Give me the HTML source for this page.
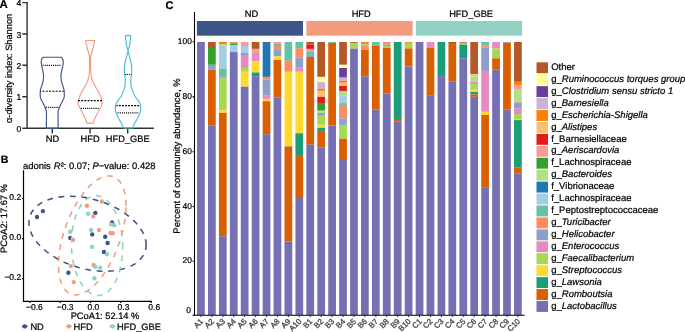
<!DOCTYPE html>
<html><head><meta charset="utf-8">
<style>
html,body{margin:0;padding:0;background:#fff;}
body{width:685px;height:332px;overflow:hidden;}
svg{display:block;will-change:transform;font-family:"Liberation Sans",sans-serif;}
text{font-family:"Liberation Sans",sans-serif;fill:#000;stroke:#000;stroke-width:0.22px;text-rendering:geometricPrecision;}
.tk{fill:#595959;stroke:none;}
</style></head><body>
<svg width="685" height="332" viewBox="0 0 685 332">
<rect width="685" height="332" fill="#fff"/>
<!-- panel labels -->
<text x="-0.4" y="7.75" font-size="11.4" font-weight="bold">A</text>
<text x="0.8" y="162.8" font-size="10.6" font-weight="bold">B</text>
<text x="165.5" y="8.75" font-size="11.0" font-weight="bold">C</text>

<!-- ===== Panel A ===== -->
<g id="panelA">
<text transform="translate(12.0,68.4) rotate(-90)" text-anchor="middle" font-size="9.25">α-diversity index: Shannon</text>
<g stroke="#333" stroke-width="1.4" fill="none">
<path d="M27.1,2 V128.3 H153.9"/>
<path d="M22.3,2.65 H27.1 M22.3,34.0 H27.1 M22.3,65.3 H27.1 M22.3,96.7 H27.1 M22.3,128.3 H27.1"/>
<path d="M52.3,128.3 V133.5 M90.1,128.3 V133.5 M127.7,128.3 V133.5"/>
</g>
<g font-size="8.6" text-anchor="end">
<text x="21.3" y="6.3">4</text>
<text x="21.3" y="37.7">3</text>
<text x="21.3" y="69.0">2</text>
<text x="21.3" y="100.4">1</text>
<text x="21.3" y="132.0">0</text>
</g>
<g font-size="9.3" text-anchor="middle">
<text x="52.4" y="142.1">ND</text>
<text x="90.1" y="142.1">HFD</text>
<text x="127.8" y="142.1">HFD_GBE</text>
</g>
<path d="M43.30,57.20 L42.74,57.70 L42.33,58.20 L42.00,58.70 L41.77,59.20 L41.58,59.70 L41.45,60.20 L41.37,60.70 L41.30,61.20 L41.26,61.70 L41.25,62.20 L41.27,62.70 L41.31,63.20 L41.36,63.70 L41.42,64.20 L41.47,64.70 L41.55,65.20 L41.65,65.70 L41.77,66.20 L41.89,66.70 L42.02,67.20 L42.14,67.70 L42.26,68.20 L42.36,68.70 L42.47,69.20 L42.57,69.70 L42.68,70.20 L42.78,70.70 L42.88,71.20 L42.97,71.70 L43.05,72.20 L43.13,72.70 L43.22,73.20 L43.30,73.70 L43.38,74.20 L43.45,74.70 L43.51,75.20 L43.54,75.70 L43.55,76.20 L43.54,76.70 L43.52,77.20 L43.48,77.70 L43.44,78.20 L43.39,78.70 L43.34,79.20 L43.28,79.70 L43.22,80.20 L43.14,80.70 L43.04,81.20 L42.93,81.70 L42.80,82.20 L42.67,82.70 L42.53,83.20 L42.39,83.70 L42.24,84.20 L42.07,84.70 L41.90,85.20 L41.73,85.70 L41.58,86.20 L41.43,86.70 L41.28,87.20 L41.12,87.70 L40.97,88.20 L40.82,88.70 L40.67,89.20 L40.55,89.70 L40.44,90.20 L40.36,90.70 L40.31,91.20 L40.29,91.70 L40.27,92.20 L40.25,92.70 L40.24,93.20 L40.22,93.70 L40.21,94.20 L40.21,94.70 L40.20,95.20 L40.20,95.70 L40.23,96.20 L40.30,96.70 L40.40,97.20 L40.53,97.70 L40.67,98.20 L40.81,98.70 L41.00,99.20 L41.24,99.70 L41.49,100.20 L41.75,100.70 L42.01,101.20 L42.28,101.70 L42.56,102.20 L42.85,102.70 L43.13,103.20 L43.40,103.70 L43.65,104.20 L43.90,104.70 L44.15,105.20 L44.38,105.70 L44.61,106.20 L44.82,106.70 L45.01,107.20 L45.19,107.70 L45.38,108.20 L45.57,108.70 L45.75,109.20 L45.92,109.70 L46.08,110.20 L46.22,110.70 L46.33,111.20 L46.41,111.70 L46.45,112.20 L46.45,112.70 L46.45,113.20 L46.45,113.70 L46.45,114.20 L46.45,114.70 L46.45,115.20 L46.45,115.70 L46.45,116.20 L46.45,116.70 L46.45,117.20 L46.45,117.70 L46.45,118.20 L46.45,118.70 L46.45,119.20 L46.45,119.70 L46.44,120.20 L46.43,120.70 L46.42,121.20 L46.40,121.70 L46.39,122.20 L46.37,122.70 L46.36,123.20 L46.35,123.70 L46.35,124.20 L46.35,124.70 L46.36,125.20 L46.37,125.70 L46.38,126.20 L46.39,126.70 L46.41,127.20 L46.42,127.70 L46.45,128.20 L46.45,128.30 L58.05,128.30 L58.05,128.20 L58.08,127.70 L58.09,127.20 L58.11,126.70 L58.12,126.20 L58.13,125.70 L58.14,125.20 L58.15,124.70 L58.15,124.20 L58.15,123.70 L58.14,123.20 L58.13,122.70 L58.11,122.20 L58.10,121.70 L58.08,121.20 L58.07,120.70 L58.06,120.20 L58.05,119.70 L58.05,119.20 L58.05,118.70 L58.05,118.20 L58.05,117.70 L58.05,117.20 L58.05,116.70 L58.05,116.20 L58.05,115.70 L58.05,115.20 L58.05,114.70 L58.05,114.20 L58.05,113.70 L58.05,113.20 L58.05,112.70 L58.05,112.20 L58.09,111.70 L58.17,111.20 L58.28,110.70 L58.42,110.20 L58.58,109.70 L58.75,109.20 L58.93,108.70 L59.12,108.20 L59.31,107.70 L59.49,107.20 L59.68,106.70 L59.89,106.20 L60.12,105.70 L60.35,105.20 L60.60,104.70 L60.85,104.20 L61.10,103.70 L61.37,103.20 L61.65,102.70 L61.94,102.20 L62.22,101.70 L62.49,101.20 L62.75,100.70 L63.01,100.20 L63.26,99.70 L63.50,99.20 L63.69,98.70 L63.83,98.20 L63.97,97.70 L64.10,97.20 L64.20,96.70 L64.27,96.20 L64.30,95.70 L64.30,95.20 L64.29,94.70 L64.29,94.20 L64.28,93.70 L64.26,93.20 L64.25,92.70 L64.23,92.20 L64.21,91.70 L64.19,91.20 L64.14,90.70 L64.06,90.20 L63.95,89.70 L63.83,89.20 L63.68,88.70 L63.53,88.20 L63.38,87.70 L63.22,87.20 L63.07,86.70 L62.92,86.20 L62.77,85.70 L62.60,85.20 L62.43,84.70 L62.26,84.20 L62.11,83.70 L61.97,83.20 L61.83,82.70 L61.70,82.20 L61.57,81.70 L61.46,81.20 L61.36,80.70 L61.28,80.20 L61.22,79.70 L61.16,79.20 L61.11,78.70 L61.06,78.20 L61.02,77.70 L60.98,77.20 L60.96,76.70 L60.95,76.20 L60.96,75.70 L60.99,75.20 L61.05,74.70 L61.12,74.20 L61.20,73.70 L61.28,73.20 L61.37,72.70 L61.45,72.20 L61.53,71.70 L61.62,71.20 L61.72,70.70 L61.82,70.20 L61.93,69.70 L62.03,69.20 L62.14,68.70 L62.24,68.20 L62.36,67.70 L62.48,67.20 L62.61,66.70 L62.73,66.20 L62.85,65.70 L62.95,65.20 L63.03,64.70 L63.08,64.20 L63.14,63.70 L63.19,63.20 L63.23,62.70 L63.25,62.20 L63.24,61.70 L63.20,61.20 L63.13,60.70 L63.05,60.20 L62.92,59.70 L62.73,59.20 L62.50,58.70 L62.17,58.20 L61.76,57.70 L61.20,57.20 Z" fill="none" stroke="#3C5488" stroke-width="1.15" stroke-linejoin="round"/>
<path d="M85.60,40.50 L85.70,41.00 L85.79,41.50 L85.89,42.00 L85.99,42.50 L86.09,43.00 L86.20,43.50 L86.30,44.00 L86.41,44.50 L86.51,45.00 L86.62,45.50 L86.73,46.00 L86.84,46.50 L86.96,47.00 L87.08,47.50 L87.20,48.00 L87.33,48.50 L87.46,49.00 L87.59,49.50 L87.73,50.00 L87.87,50.50 L88.01,51.00 L88.16,51.50 L88.30,52.00 L88.45,52.50 L88.60,53.00 L88.76,53.50 L88.92,54.00 L89.06,54.50 L89.20,55.00 L89.34,55.50 L89.49,56.00 L89.60,56.50 L89.65,57.00 L89.65,57.50 L89.65,58.00 L89.64,58.50 L89.64,59.00 L89.63,59.50 L89.62,60.00 L89.62,60.50 L89.61,61.00 L89.61,61.50 L89.60,62.00 L89.60,62.50 L89.59,63.00 L89.59,63.50 L89.59,64.00 L89.58,64.50 L89.58,65.00 L89.58,65.50 L89.57,66.00 L89.57,66.50 L89.56,67.00 L89.56,67.50 L89.55,68.00 L89.54,68.50 L89.52,69.00 L89.50,69.50 L89.47,70.00 L89.45,70.50 L89.41,71.00 L89.38,71.50 L89.35,72.00 L89.32,72.50 L89.28,73.00 L89.25,73.50 L89.20,74.00 L89.16,74.50 L89.10,75.00 L89.03,75.50 L88.95,76.00 L88.85,76.50 L88.74,77.00 L88.62,77.50 L88.49,78.00 L88.35,78.50 L88.20,79.00 L88.05,79.50 L87.90,80.00 L87.73,80.50 L87.55,81.00 L87.35,81.50 L87.14,82.00 L86.92,82.50 L86.68,83.00 L86.44,83.50 L86.20,84.00 L85.95,84.50 L85.70,85.00 L85.44,85.50 L85.17,86.00 L84.89,86.50 L84.60,87.00 L84.30,87.50 L84.00,88.00 L83.70,88.50 L83.41,89.00 L83.12,89.50 L82.85,90.00 L82.57,90.50 L82.30,91.00 L82.02,91.50 L81.75,92.00 L81.48,92.50 L81.21,93.00 L80.96,93.50 L80.71,94.00 L80.48,94.50 L80.26,95.00 L80.04,95.50 L79.82,96.00 L79.60,96.50 L79.39,97.00 L79.19,97.50 L79.00,98.00 L78.82,98.50 L78.67,99.00 L78.54,99.50 L78.43,100.00 L78.33,100.50 L78.24,101.00 L78.16,101.50 L78.11,102.00 L78.10,102.50 L78.14,103.00 L78.22,103.50 L78.34,104.00 L78.47,104.50 L78.60,105.00 L78.75,105.50 L78.95,106.00 L79.17,106.50 L79.41,107.00 L79.65,107.50 L79.90,108.00 L80.15,108.50 L80.40,109.00 L80.67,109.50 L80.94,110.00 L81.22,110.50 L81.50,111.00 L81.78,111.50 L82.06,112.00 L82.33,112.50 L82.60,113.00 L82.86,113.50 L83.11,114.00 L83.37,114.50 L83.62,115.00 L83.87,115.50 L84.11,116.00 L84.36,116.50 L84.60,117.00 L84.83,117.50 L85.06,118.00 L85.28,118.50 L85.51,119.00 L85.73,119.50 L85.94,120.00 L86.14,120.50 L86.30,121.00 L86.44,121.50 L86.57,122.00 L86.69,122.50 L86.78,123.00 L86.80,123.10 L93.40,123.10 L93.42,123.00 L93.51,122.50 L93.63,122.00 L93.76,121.50 L93.90,121.00 L94.06,120.50 L94.26,120.00 L94.47,119.50 L94.69,119.00 L94.92,118.50 L95.14,118.00 L95.37,117.50 L95.60,117.00 L95.84,116.50 L96.09,116.00 L96.33,115.50 L96.58,115.00 L96.83,114.50 L97.09,114.00 L97.34,113.50 L97.60,113.00 L97.87,112.50 L98.14,112.00 L98.42,111.50 L98.70,111.00 L98.98,110.50 L99.26,110.00 L99.53,109.50 L99.80,109.00 L100.05,108.50 L100.30,108.00 L100.55,107.50 L100.79,107.00 L101.03,106.50 L101.25,106.00 L101.45,105.50 L101.60,105.00 L101.73,104.50 L101.86,104.00 L101.98,103.50 L102.06,103.00 L102.10,102.50 L102.09,102.00 L102.04,101.50 L101.96,101.00 L101.87,100.50 L101.77,100.00 L101.66,99.50 L101.53,99.00 L101.38,98.50 L101.20,98.00 L101.01,97.50 L100.81,97.00 L100.60,96.50 L100.38,96.00 L100.16,95.50 L99.94,95.00 L99.72,94.50 L99.49,94.00 L99.24,93.50 L98.99,93.00 L98.72,92.50 L98.45,92.00 L98.18,91.50 L97.90,91.00 L97.63,90.50 L97.35,90.00 L97.08,89.50 L96.79,89.00 L96.50,88.50 L96.20,88.00 L95.90,87.50 L95.60,87.00 L95.31,86.50 L95.03,86.00 L94.76,85.50 L94.50,85.00 L94.25,84.50 L94.00,84.00 L93.76,83.50 L93.52,83.00 L93.28,82.50 L93.06,82.00 L92.85,81.50 L92.65,81.00 L92.47,80.50 L92.30,80.00 L92.15,79.50 L92.00,79.00 L91.85,78.50 L91.71,78.00 L91.58,77.50 L91.46,77.00 L91.35,76.50 L91.25,76.00 L91.17,75.50 L91.10,75.00 L91.04,74.50 L91.00,74.00 L90.95,73.50 L90.92,73.00 L90.88,72.50 L90.85,72.00 L90.82,71.50 L90.79,71.00 L90.75,70.50 L90.73,70.00 L90.70,69.50 L90.68,69.00 L90.66,68.50 L90.65,68.00 L90.64,67.50 L90.64,67.00 L90.63,66.50 L90.63,66.00 L90.62,65.50 L90.62,65.00 L90.62,64.50 L90.61,64.00 L90.61,63.50 L90.61,63.00 L90.60,62.50 L90.60,62.00 L90.59,61.50 L90.59,61.00 L90.58,60.50 L90.58,60.00 L90.57,59.50 L90.56,59.00 L90.56,58.50 L90.55,58.00 L90.55,57.50 L90.55,57.00 L90.60,56.50 L90.71,56.00 L90.86,55.50 L91.00,55.00 L91.14,54.50 L91.28,54.00 L91.44,53.50 L91.60,53.00 L91.75,52.50 L91.90,52.00 L92.04,51.50 L92.19,51.00 L92.33,50.50 L92.47,50.00 L92.61,49.50 L92.74,49.00 L92.87,48.50 L93.00,48.00 L93.12,47.50 L93.24,47.00 L93.36,46.50 L93.47,46.00 L93.58,45.50 L93.69,45.00 L93.79,44.50 L93.90,44.00 L94.00,43.50 L94.11,43.00 L94.21,42.50 L94.31,42.00 L94.41,41.50 L94.50,41.00 L94.60,40.50 Z" fill="none" stroke="#F39B7F" stroke-width="1.15" stroke-linejoin="round"/>
<path d="M125.30,35.60 L125.36,36.10 L125.43,36.60 L125.49,37.10 L125.55,37.60 L125.61,38.10 L125.67,38.60 L125.73,39.10 L125.79,39.60 L125.85,40.10 L125.91,40.60 L125.97,41.10 L126.02,41.60 L126.07,42.10 L126.11,42.60 L126.16,43.10 L126.22,43.60 L126.28,44.10 L126.35,44.60 L126.44,45.10 L126.55,45.60 L126.68,46.10 L126.83,46.60 L126.99,47.10 L127.14,47.60 L127.28,48.10 L127.43,48.60 L127.60,49.10 L127.75,49.60 L127.87,50.10 L127.94,50.60 L127.93,51.10 L127.84,51.60 L127.70,52.10 L127.55,52.60 L127.43,53.10 L127.32,53.60 L127.21,54.10 L127.10,54.60 L126.99,55.10 L126.87,55.60 L126.75,56.10 L126.61,56.60 L126.47,57.10 L126.33,57.60 L126.20,58.10 L126.06,58.60 L125.93,59.10 L125.79,59.60 L125.66,60.10 L125.54,60.60 L125.43,61.10 L125.32,61.60 L125.22,62.10 L125.12,62.60 L125.02,63.10 L124.93,63.60 L124.85,64.10 L124.77,64.60 L124.68,65.10 L124.60,65.60 L124.53,66.10 L124.47,66.60 L124.45,67.10 L124.43,67.60 L124.42,68.10 L124.41,68.60 L124.41,69.10 L124.40,69.60 L124.40,70.10 L124.41,70.60 L124.42,71.10 L124.44,71.60 L124.47,72.10 L124.51,72.60 L124.55,73.10 L124.59,73.60 L124.63,74.10 L124.67,74.60 L124.72,75.10 L124.78,75.60 L124.86,76.10 L124.93,76.60 L125.01,77.10 L125.08,77.60 L125.13,78.10 L125.18,78.60 L125.20,79.10 L125.20,79.60 L125.20,80.10 L125.20,80.60 L125.19,81.10 L125.19,81.60 L125.19,82.10 L125.18,82.60 L125.17,83.10 L125.17,83.60 L125.16,84.10 L125.15,84.60 L125.11,85.10 L125.04,85.60 L124.94,86.10 L124.82,86.60 L124.68,87.10 L124.54,87.60 L124.39,88.10 L124.25,88.60 L124.10,89.10 L123.94,89.60 L123.77,90.10 L123.59,90.60 L123.40,91.10 L123.20,91.60 L122.99,92.10 L122.79,92.60 L122.59,93.10 L122.38,93.60 L122.17,94.10 L121.95,94.60 L121.73,95.10 L121.48,95.60 L121.22,96.10 L120.93,96.60 L120.60,97.10 L120.22,97.60 L119.81,98.10 L119.40,98.60 L118.98,99.10 L118.57,99.60 L118.19,100.10 L117.84,100.60 L117.49,101.10 L117.15,101.60 L116.82,102.10 L116.54,102.60 L116.31,103.10 L116.09,103.60 L115.88,104.10 L115.70,104.60 L115.56,105.10 L115.47,105.60 L115.43,106.10 L115.41,106.60 L115.39,107.10 L115.37,107.60 L115.36,108.10 L115.35,108.60 L115.35,109.10 L115.38,109.60 L115.45,110.10 L115.55,110.60 L115.67,111.10 L115.80,111.60 L115.95,112.10 L116.09,112.60 L116.24,113.10 L116.41,113.60 L116.60,114.10 L116.80,114.60 L117.03,115.10 L117.26,115.60 L117.51,116.10 L117.75,116.60 L118.00,117.10 L118.25,117.60 L118.50,118.10 L118.77,118.60 L119.04,119.10 L119.33,119.60 L119.62,120.10 L119.92,120.60 L120.21,121.10 L120.50,121.60 L120.78,122.10 L121.05,122.60 L121.30,123.10 L121.54,123.60 L121.78,124.10 L122.01,124.60 L122.24,125.10 L122.46,125.60 L122.68,126.10 L122.89,126.60 L123.10,127.10 L123.29,127.60 L123.45,128.00 L132.65,128.00 L132.81,127.60 L133.00,127.10 L133.21,126.60 L133.42,126.10 L133.64,125.60 L133.86,125.10 L134.09,124.60 L134.32,124.10 L134.56,123.60 L134.80,123.10 L135.05,122.60 L135.32,122.10 L135.60,121.60 L135.89,121.10 L136.18,120.60 L136.48,120.10 L136.77,119.60 L137.06,119.10 L137.33,118.60 L137.60,118.10 L137.85,117.60 L138.10,117.10 L138.35,116.60 L138.59,116.10 L138.84,115.60 L139.07,115.10 L139.30,114.60 L139.50,114.10 L139.69,113.60 L139.86,113.10 L140.01,112.60 L140.15,112.10 L140.30,111.60 L140.43,111.10 L140.55,110.60 L140.65,110.10 L140.72,109.60 L140.75,109.10 L140.75,108.60 L140.74,108.10 L140.73,107.60 L140.71,107.10 L140.69,106.60 L140.67,106.10 L140.63,105.60 L140.54,105.10 L140.40,104.60 L140.22,104.10 L140.01,103.60 L139.79,103.10 L139.56,102.60 L139.28,102.10 L138.95,101.60 L138.61,101.10 L138.26,100.60 L137.91,100.10 L137.53,99.60 L137.12,99.10 L136.70,98.60 L136.29,98.10 L135.88,97.60 L135.50,97.10 L135.17,96.60 L134.88,96.10 L134.62,95.60 L134.37,95.10 L134.15,94.60 L133.93,94.10 L133.72,93.60 L133.51,93.10 L133.31,92.60 L133.11,92.10 L132.90,91.60 L132.70,91.10 L132.51,90.60 L132.33,90.10 L132.16,89.60 L132.00,89.10 L131.85,88.60 L131.71,88.10 L131.56,87.60 L131.42,87.10 L131.28,86.60 L131.16,86.10 L131.06,85.60 L130.99,85.10 L130.95,84.60 L130.94,84.10 L130.93,83.60 L130.93,83.10 L130.92,82.60 L130.91,82.10 L130.91,81.60 L130.91,81.10 L130.90,80.60 L130.90,80.10 L130.90,79.60 L130.90,79.10 L130.92,78.60 L130.97,78.10 L131.02,77.60 L131.09,77.10 L131.17,76.60 L131.24,76.10 L131.32,75.60 L131.38,75.10 L131.43,74.60 L131.47,74.10 L131.51,73.60 L131.55,73.10 L131.59,72.60 L131.63,72.10 L131.66,71.60 L131.68,71.10 L131.69,70.60 L131.70,70.10 L131.70,69.60 L131.69,69.10 L131.69,68.60 L131.68,68.10 L131.67,67.60 L131.65,67.10 L131.63,66.60 L131.57,66.10 L131.50,65.60 L131.42,65.10 L131.33,64.60 L131.25,64.10 L131.17,63.60 L131.08,63.10 L130.98,62.60 L130.88,62.10 L130.78,61.60 L130.67,61.10 L130.56,60.60 L130.44,60.10 L130.31,59.60 L130.17,59.10 L130.04,58.60 L129.90,58.10 L129.77,57.60 L129.63,57.10 L129.49,56.60 L129.35,56.10 L129.23,55.60 L129.11,55.10 L129.00,54.60 L128.89,54.10 L128.78,53.60 L128.67,53.10 L128.55,52.60 L128.40,52.10 L128.26,51.60 L128.17,51.10 L128.16,50.60 L128.23,50.10 L128.35,49.60 L128.50,49.10 L128.67,48.60 L128.82,48.10 L128.96,47.60 L129.11,47.10 L129.27,46.60 L129.42,46.10 L129.55,45.60 L129.66,45.10 L129.75,44.60 L129.82,44.10 L129.88,43.60 L129.94,43.10 L129.99,42.60 L130.03,42.10 L130.08,41.60 L130.13,41.10 L130.19,40.60 L130.25,40.10 L130.31,39.60 L130.37,39.10 L130.43,38.60 L130.49,38.10 L130.55,37.60 L130.61,37.10 L130.67,36.60 L130.74,36.10 L130.80,35.60 Z" fill="none" stroke="#4DBBD5" stroke-width="1.15" stroke-linejoin="round"/>
<line x1="42.6" y1="65.4" x2="61.6" y2="65.4" stroke="#000" stroke-width="1.15" stroke-dasharray="1.05 1.05" stroke-dashoffset="0"/>
<line x1="40.5" y1="91.2" x2="63.6" y2="91.2" stroke="#000" stroke-width="1.15" stroke-dasharray="2 1.27" stroke-dashoffset="1.27"/>
<line x1="46.0" y1="107.3" x2="59.0" y2="107.3" stroke="#000" stroke-width="1.15" stroke-dasharray="1.05 1.05" stroke-dashoffset="0"/>
<line x1="78.0" y1="100.6" x2="102.0" y2="100.6" stroke="#000" stroke-width="1.15" stroke-dasharray="1.9 1.24" stroke-dashoffset="3.01"/>
<line x1="80.8" y1="108.3" x2="99.4" y2="108.3" stroke="#000" stroke-width="1.15" stroke-dasharray="1.05 1.05" stroke-dashoffset="0"/>
<line x1="124.8" y1="74.5" x2="131.5" y2="74.5" stroke="#000" stroke-width="1.15" stroke-dasharray="1.05 1.05" stroke-dashoffset="0"/>
<line x1="116.3" y1="105.6" x2="139.8" y2="105.6" stroke="#000" stroke-width="1.15" stroke-dasharray="1.9 1.17" stroke-dashoffset="0.47"/>
<line x1="117.6" y1="112.9" x2="138.8" y2="112.9" stroke="#000" stroke-width="1.15" stroke-dasharray="1.05 1.05" stroke-dashoffset="0"/>

</g>

<!-- ===== Panel B ===== -->
<g id="panelB">
<text x="23.1" y="168.6" font-size="9.42">adonis <tspan font-style="italic" dx="0.4">R</tspan>²: 0.07; <tspan font-style="italic">P</tspan>−value: 0.428</text>
<text transform="translate(6.9,218.5) rotate(-90)" text-anchor="middle" font-size="9.3">PCoA2: 17.67 %</text>
<text x="105" y="319.2" text-anchor="middle" font-size="9.3">PCoA1: 52.14 %</text>
<g stroke="#000" stroke-width="1.2" fill="none">
<path d="M23.5,170.3 V301.4 H152"/>
<path d="M22,198.5 H23.5 M22,238.6 H23.5 M22,278.7 H23.5"/>
<path d="M29.9,301.4 V302.9 M60.3,301.4 V302.9 M90.5,301.4 V302.9 M120.6,301.4 V302.9 M151.2,301.4 V302.9"/>
</g>
<g font-size="8.5" class="tk">
<text x="21.2" y="200.3" text-anchor="end">0.2</text>
<text x="21.2" y="240.3" text-anchor="end">0.0</text>
<text x="21.2" y="280.4" text-anchor="end">−0.2</text>
<text x="26.0" y="310.4">−0.6</text>
<text x="56.8" y="310.4">−0.3</text>
<text x="87.5" y="310.4">0.0</text>
<text x="117.6" y="310.4">0.3</text>
<text x="148.3" y="310.4">0.6</text>
</g>
<circle cx="42.9" cy="211.1" r="2.2" fill="#3C5488"/>
<circle cx="37.0" cy="217.0" r="2.2" fill="#3C5488"/>
<circle cx="95.3" cy="212.9" r="2.2" fill="#3C5488"/>
<circle cx="112.0" cy="222.5" r="2.2" fill="#3C5488"/>
<circle cx="92.2" cy="234.4" r="2.2" fill="#3C5488"/>
<circle cx="70.2" cy="237.9" r="2.2" fill="#3C5488"/>
<circle cx="105.2" cy="236.7" r="2.2" fill="#3C5488"/>
<circle cx="107.6" cy="243.0" r="2.2" fill="#3C5488"/>
<circle cx="103.9" cy="252" r="2.2" fill="#3C5488"/>
<circle cx="68.4" cy="272.7" r="2.2" fill="#3C5488"/>
<circle cx="86.9" cy="205.7" r="2.2" fill="#F39B7F"/>
<circle cx="101.8" cy="201.5" r="2.2" fill="#F39B7F"/>
<circle cx="93.3" cy="216.4" r="2.2" fill="#F39B7F"/>
<circle cx="98.9" cy="229.9" r="2.2" fill="#F39B7F"/>
<circle cx="110.4" cy="233.0" r="2.2" fill="#F39B7F"/>
<circle cx="112.8" cy="233.3" r="2.2" fill="#F39B7F"/>
<circle cx="73.1" cy="240.0" r="2.2" fill="#F39B7F"/>
<circle cx="70.8" cy="266.1" r="2.2" fill="#F39B7F"/>
<circle cx="93.6" cy="264.9" r="2.2" fill="#F39B7F"/>
<circle cx="73.7" cy="282.1" r="2.2" fill="#F39B7F"/>
<circle cx="88.2" cy="213.8" r="2.2" fill="#91D1C2"/>
<circle cx="91.1" cy="229.9" r="2.2" fill="#91D1C2"/>
<circle cx="70.2" cy="231.8" r="2.2" fill="#91D1C2"/>
<circle cx="111.2" cy="224.4" r="2.2" fill="#91D1C2"/>
<circle cx="114.2" cy="225.2" r="2.2" fill="#91D1C2"/>
<circle cx="91.9" cy="246.9" r="2.2" fill="#91D1C2"/>
<circle cx="107" cy="254.3" r="2.2" fill="#91D1C2"/>
<circle cx="95.4" cy="266.9" r="2.2" fill="#91D1C2"/>
<circle cx="100.2" cy="267.7" r="2.2" fill="#91D1C2"/>
<circle cx="94.4" cy="278.2" r="2.2" fill="#91D1C2"/>
<g fill="none" stroke-width="1.55" stroke-dasharray="5.75 5.75" stroke-linejoin="round"><path d="M146.17,244.91 L145.73,240.42 L144.40,235.83 L142.21,231.21 L139.19,226.63 L135.39,222.16 L130.86,217.86 L125.68,213.81 L119.91,210.06 L113.66,206.67 L107.01,203.68 L100.06,201.16 L92.93,199.13 L85.71,197.62 L78.52,196.67 L71.46,196.27 L64.65,196.45 L58.19,197.19 L52.17,198.48 L46.68,200.31 L41.82,202.65 L37.64,205.46 L34.23,208.70 L31.62,212.32 L29.86,216.26 L28.97,220.47 L28.97,224.88 L29.86,229.43 L31.62,234.04 L34.23,238.65 L37.64,243.19 L41.82,247.58 L46.68,251.76 L52.17,255.67 L58.19,259.25 L64.65,262.44 L71.46,265.20 L78.52,267.48 L85.71,269.25 L92.93,270.49 L100.06,271.16 L107.01,271.27 L113.66,270.81 L119.91,269.79 L125.68,268.23 L130.86,266.14 L135.39,263.56 L139.19,260.53 L142.21,257.10 L144.40,253.31 L145.73,249.22 L146.17,244.91" stroke="#3C5488" stroke-dashoffset="0"/><path d="M126.04,205.88 L125.78,199.75 L125.02,194.15 L123.76,189.18 L122.02,184.90 L119.83,181.40 L117.22,178.71 L114.23,176.88 L110.91,175.94 L107.30,175.90 L103.47,176.76 L99.47,178.52 L95.35,181.13 L91.19,184.57 L87.05,188.77 L82.98,193.69 L79.06,199.23 L75.33,205.33 L71.86,211.88 L68.70,218.78 L65.90,225.94 L63.49,233.24 L61.52,240.58 L60.02,247.83 L59.00,254.90 L58.49,261.67 L58.49,268.05 L59.00,273.93 L60.02,279.22 L61.52,283.85 L63.49,287.75 L65.90,290.85 L68.70,293.11 L71.86,294.50 L75.33,294.99 L79.06,294.58 L82.98,293.27 L87.05,291.08 L91.19,288.05 L95.35,284.22 L99.47,279.66 L103.47,274.42 L107.30,268.59 L110.91,262.25 L114.23,255.51 L117.22,248.46 L119.83,241.22 L122.02,233.89 L123.76,226.58 L125.02,219.40 L125.78,212.47 L126.04,205.88" stroke="#F39B7F" stroke-dashoffset="0"/><path d="M122.66,247.63 L122.46,241.48 L121.88,235.39 L120.92,229.46 L119.60,223.77 L117.94,218.41 L115.96,213.46 L113.70,209.00 L111.18,205.09 L108.44,201.80 L105.53,199.17 L102.50,197.24 L99.38,196.05 L96.22,195.61 L93.08,195.92 L89.99,196.99 L87.02,198.79 L84.19,201.30 L81.56,204.48 L79.16,208.29 L77.03,212.66 L75.21,217.53 L73.71,222.82 L72.57,228.46 L71.80,234.36 L71.41,240.43 L71.41,246.57 L71.80,252.71 L72.57,258.73 L73.71,264.55 L75.21,270.08 L77.03,275.25 L79.16,279.96 L81.56,284.15 L84.19,287.76 L87.02,290.73 L89.99,293.01 L93.08,294.57 L96.22,295.39 L99.38,295.46 L102.50,294.76 L105.53,293.33 L108.44,291.17 L111.18,288.31 L113.70,284.81 L115.96,280.72 L117.94,276.09 L119.60,271.00 L120.92,265.52 L121.88,259.74 L122.46,253.74 L122.66,247.63" stroke="#91D1C2" stroke-dashoffset="0"/></g>
<!-- legend -->
<g>
<polygon points="21.5,326.4 23.8,324.2 25.6,324.2 27.9,326.4 25.6,328.6 23.8,328.6" fill="#3C5488"/>
<polygon points="65.7,326.4 68.0,324.2 69.8,324.2 72.1,326.4 69.8,328.6 68.0,328.6" fill="#F39B7F"/>
<polygon points="109.2,326.4 111.5,324.2 113.3,324.2 115.6,326.4 113.3,328.6 111.5,328.6" fill="#91D1C2"/>
<g font-size="9.3">
<text x="30.4" y="329.8">ND</text>
<text x="73.6" y="329.8">HFD</text>
<text x="117.1" y="329.8">HFD_GBE</text>
</g>
</g>
</g>

<!-- ===== Panel C ===== -->
<g id="panelC">
<rect x="196.9" y="21.0" width="106.1" height="14.7" fill="#3C5488"/>
<rect x="306.4" y="21.0" width="106.2" height="14.7" fill="#F39B7F"/>
<rect x="415.9" y="21.0" width="106.2" height="14.7" fill="#91D1C2"/>
<g font-size="9.3" text-anchor="middle">
<text x="251.4" y="16.8">ND</text>
<text x="361.2" y="16.8">HFD</text>
<text x="471.1" y="16.8">HFD_GBE</text>
</g>
<text transform="translate(180.2,156) rotate(-90)" text-anchor="middle" font-size="9.5">Percent of community abundance, %</text>
<rect x="197.06" y="42.00" width="7.75" height="273.00" fill="#7570B3"/>
<rect x="207.99" y="42.00" width="7.75" height="6.00" fill="#B15928"/>
<rect x="207.99" y="48.00" width="7.75" height="16.80" fill="#33A02C"/>
<rect x="207.99" y="64.80" width="7.75" height="4.80" fill="#8DA0CB"/>
<rect x="207.99" y="69.60" width="7.75" height="56.10" fill="#D95F02"/>
<rect x="207.99" y="125.70" width="7.75" height="189.30" fill="#7570B3"/>
<rect x="218.92" y="42.00" width="7.75" height="2.30" fill="#FF7F00"/>
<rect x="218.92" y="44.30" width="7.75" height="1.10" fill="#A6D854"/>
<rect x="218.92" y="45.40" width="7.75" height="23.10" fill="#A6CEE3"/>
<rect x="218.92" y="68.50" width="7.75" height="8.40" fill="#66C2A5"/>
<rect x="218.92" y="76.90" width="7.75" height="1.70" fill="#E78AC3"/>
<rect x="218.92" y="78.60" width="7.75" height="31.60" fill="#A6D854"/>
<rect x="218.92" y="110.20" width="7.75" height="2.70" fill="#FFD92F"/>
<rect x="218.92" y="112.90" width="7.75" height="123.30" fill="#D95F02"/>
<rect x="218.92" y="236.20" width="7.75" height="78.80" fill="#7570B3"/>
<rect x="229.85" y="42.00" width="7.75" height="0.70" fill="#B15928"/>
<rect x="229.85" y="42.70" width="7.75" height="0.80" fill="#FB9A99"/>
<rect x="229.85" y="43.50" width="7.75" height="1.50" fill="#33A02C"/>
<rect x="229.85" y="45.00" width="7.75" height="7.10" fill="#A6CEE3"/>
<rect x="229.85" y="52.10" width="7.75" height="262.90" fill="#7570B3"/>
<rect x="240.78" y="42.00" width="7.75" height="4.00" fill="#FB9A99"/>
<rect x="240.78" y="46.00" width="7.75" height="6.80" fill="#A6CEE3"/>
<rect x="240.78" y="52.80" width="7.75" height="3.10" fill="#8DA0CB"/>
<rect x="240.78" y="55.90" width="7.75" height="12.00" fill="#E78AC3"/>
<rect x="240.78" y="67.90" width="7.75" height="3.90" fill="#A6D854"/>
<rect x="240.78" y="71.80" width="7.75" height="14.90" fill="#FFD92F"/>
<rect x="240.78" y="86.70" width="7.75" height="228.30" fill="#7570B3"/>
<rect x="251.71" y="42.00" width="7.75" height="6.90" fill="#B15928"/>
<rect x="251.71" y="48.90" width="7.75" height="4.10" fill="#FB9A99"/>
<rect x="251.71" y="53.00" width="7.75" height="8.30" fill="#E78AC3"/>
<rect x="251.71" y="61.30" width="7.75" height="11.20" fill="#FFD92F"/>
<rect x="251.71" y="72.50" width="7.75" height="3.70" fill="#1B9E77"/>
<rect x="251.71" y="76.20" width="7.75" height="238.80" fill="#7570B3"/>
<rect x="262.64" y="42.00" width="7.75" height="0.90" fill="#3D5872"/>
<rect x="262.64" y="42.90" width="7.75" height="34.00" fill="#1F78B4"/>
<rect x="262.64" y="76.90" width="7.75" height="2.50" fill="#FC8D62"/>
<rect x="262.64" y="79.40" width="7.75" height="16.30" fill="#8DA0CB"/>
<rect x="262.64" y="95.70" width="7.75" height="3.20" fill="#E78AC3"/>
<rect x="262.64" y="98.90" width="7.75" height="2.30" fill="#FFD92F"/>
<rect x="262.64" y="101.20" width="7.75" height="33.00" fill="#D95F02"/>
<rect x="262.64" y="134.20" width="7.75" height="180.80" fill="#7570B3"/>
<rect x="273.57" y="42.00" width="7.75" height="1.90" fill="#FB9A99"/>
<rect x="273.57" y="43.90" width="7.75" height="2.10" fill="#66C2A5"/>
<rect x="273.57" y="46.00" width="7.75" height="4.00" fill="#FC8D62"/>
<rect x="273.57" y="50.00" width="7.75" height="6.40" fill="#8DA0CB"/>
<rect x="273.57" y="56.40" width="7.75" height="3.60" fill="#FFD92F"/>
<rect x="273.57" y="60.00" width="7.75" height="37.30" fill="#D95F02"/>
<rect x="273.57" y="97.30" width="7.75" height="217.70" fill="#7570B3"/>
<rect x="284.50" y="42.00" width="7.75" height="18.80" fill="#66C2A5"/>
<rect x="284.50" y="60.80" width="7.75" height="11.00" fill="#FC8D62"/>
<rect x="284.50" y="71.80" width="7.75" height="74.60" fill="#FFD92F"/>
<rect x="284.50" y="146.40" width="7.75" height="95.10" fill="#D95F02"/>
<rect x="284.50" y="241.50" width="7.75" height="73.50" fill="#7570B3"/>
<rect x="295.43" y="42.00" width="7.75" height="6.20" fill="#66C2A5"/>
<rect x="295.43" y="48.20" width="7.75" height="9.50" fill="#FC8D62"/>
<rect x="295.43" y="57.70" width="7.75" height="9.40" fill="#8DA0CB"/>
<rect x="295.43" y="67.10" width="7.75" height="4.70" fill="#E78AC3"/>
<rect x="295.43" y="71.80" width="7.75" height="61.50" fill="#FFD92F"/>
<rect x="295.43" y="133.30" width="7.75" height="21.70" fill="#1B9E77"/>
<rect x="295.43" y="155.00" width="7.75" height="43.00" fill="#D95F02"/>
<rect x="295.43" y="198.00" width="7.75" height="117.00" fill="#7570B3"/>
<rect x="306.36" y="42.00" width="7.75" height="2.50" fill="#B15928"/>
<rect x="306.36" y="44.50" width="7.75" height="4.40" fill="#E31A1C"/>
<rect x="306.36" y="48.90" width="7.75" height="3.00" fill="#FB9A99"/>
<rect x="306.36" y="51.90" width="7.75" height="3.00" fill="#66C2A5"/>
<rect x="306.36" y="54.90" width="7.75" height="2.10" fill="#8DA0CB"/>
<rect x="306.36" y="57.00" width="7.75" height="87.70" fill="#D95F02"/>
<rect x="306.36" y="144.70" width="7.75" height="170.30" fill="#7570B3"/>
<rect x="317.29" y="42.00" width="7.75" height="34.90" fill="#B15928"/>
<rect x="317.29" y="76.90" width="7.75" height="5.30" fill="#FFFF99"/>
<rect x="317.29" y="82.20" width="7.75" height="6.80" fill="#CAB2D6"/>
<rect x="317.29" y="89.00" width="7.75" height="1.90" fill="#FF7F00"/>
<rect x="317.29" y="90.90" width="7.75" height="6.00" fill="#FDBF6F"/>
<rect x="317.29" y="96.90" width="7.75" height="6.90" fill="#E31A1C"/>
<rect x="317.29" y="103.80" width="7.75" height="6.90" fill="#33A02C"/>
<rect x="317.29" y="110.70" width="7.75" height="2.20" fill="#B2DF8A"/>
<rect x="317.29" y="112.90" width="7.75" height="2.90" fill="#8DA0CB"/>
<rect x="317.29" y="115.80" width="7.75" height="9.10" fill="#A6D854"/>
<rect x="317.29" y="124.90" width="7.75" height="3.00" fill="#FFD92F"/>
<rect x="317.29" y="127.90" width="7.75" height="3.00" fill="#1B9E77"/>
<rect x="317.29" y="130.90" width="7.75" height="16.30" fill="#D95F02"/>
<rect x="317.29" y="147.20" width="7.75" height="167.80" fill="#7570B3"/>
<rect x="328.22" y="42.00" width="7.75" height="0.90" fill="#66C2A5"/>
<rect x="328.22" y="42.90" width="7.75" height="82.70" fill="#D95F02"/>
<rect x="328.22" y="125.60" width="7.75" height="189.40" fill="#7570B3"/>
<rect x="339.15" y="42.00" width="7.75" height="22.80" fill="#B15928"/>
<rect x="339.15" y="64.80" width="7.75" height="3.20" fill="#FFFF99"/>
<rect x="339.15" y="68.00" width="7.75" height="9.60" fill="#6A3D9A"/>
<rect x="339.15" y="77.60" width="7.75" height="3.30" fill="#CAB2D6"/>
<rect x="339.15" y="80.90" width="7.75" height="2.00" fill="#FF7F00"/>
<rect x="339.15" y="82.90" width="7.75" height="3.10" fill="#FDBF6F"/>
<rect x="339.15" y="86.00" width="7.75" height="4.90" fill="#E31A1C"/>
<rect x="339.15" y="90.90" width="7.75" height="0.60" fill="#33A02C"/>
<rect x="339.15" y="91.50" width="7.75" height="3.60" fill="#B2DF8A"/>
<rect x="339.15" y="95.10" width="7.75" height="8.00" fill="#A6CEE3"/>
<rect x="339.15" y="103.10" width="7.75" height="1.90" fill="#66C2A5"/>
<rect x="339.15" y="105.00" width="7.75" height="13.50" fill="#FC8D62"/>
<rect x="339.15" y="118.50" width="7.75" height="6.40" fill="#8DA0CB"/>
<rect x="339.15" y="124.90" width="7.75" height="13.90" fill="#A6D854"/>
<rect x="339.15" y="138.80" width="7.75" height="21.20" fill="#D95F02"/>
<rect x="339.15" y="160.00" width="7.75" height="155.00" fill="#7570B3"/>
<rect x="350.08" y="42.00" width="7.75" height="0.90" fill="#B15928"/>
<rect x="350.08" y="42.90" width="7.75" height="5.80" fill="#A6D854"/>
<rect x="350.08" y="48.70" width="7.75" height="266.30" fill="#7570B3"/>
<rect x="361.01" y="42.00" width="7.75" height="1.60" fill="#FF7F00"/>
<rect x="361.01" y="43.60" width="7.75" height="0.70" fill="#33A02C"/>
<rect x="361.01" y="44.30" width="7.75" height="1.70" fill="#A6D854"/>
<rect x="361.01" y="46.00" width="7.75" height="3.70" fill="#FC8D62"/>
<rect x="361.01" y="49.70" width="7.75" height="26.80" fill="#D95F02"/>
<rect x="361.01" y="76.50" width="7.75" height="238.50" fill="#7570B3"/>
<rect x="371.94" y="42.00" width="7.75" height="3.60" fill="#66C2A5"/>
<rect x="371.94" y="45.60" width="7.75" height="63.80" fill="#D95F02"/>
<rect x="371.94" y="109.40" width="7.75" height="205.60" fill="#7570B3"/>
<rect x="382.87" y="42.00" width="7.75" height="2.60" fill="#FC8D62"/>
<rect x="382.87" y="44.60" width="7.75" height="1.40" fill="#8DA0CB"/>
<rect x="382.87" y="46.00" width="7.75" height="2.00" fill="#A6D854"/>
<rect x="382.87" y="48.00" width="7.75" height="45.60" fill="#D95F02"/>
<rect x="382.87" y="93.60" width="7.75" height="221.40" fill="#7570B3"/>
<rect x="393.80" y="42.00" width="7.75" height="77.00" fill="#1B9E77"/>
<rect x="393.80" y="119.00" width="7.75" height="2.70" fill="#D95F02"/>
<rect x="393.80" y="121.70" width="7.75" height="193.30" fill="#7570B3"/>
<rect x="404.73" y="42.00" width="7.75" height="0.90" fill="#FF7F00"/>
<rect x="404.73" y="42.90" width="7.75" height="5.60" fill="#A6D854"/>
<rect x="404.73" y="48.50" width="7.75" height="18.00" fill="#D95F02"/>
<rect x="404.73" y="66.50" width="7.75" height="248.50" fill="#7570B3"/>
<rect x="415.66" y="42.00" width="7.75" height="273.00" fill="#7570B3"/>
<rect x="426.59" y="42.00" width="7.75" height="6.00" fill="#E78AC3"/>
<rect x="426.59" y="48.00" width="7.75" height="47.20" fill="#D95F02"/>
<rect x="426.59" y="95.20" width="7.75" height="219.80" fill="#7570B3"/>
<rect x="437.52" y="42.00" width="7.75" height="34.10" fill="#1B9E77"/>
<rect x="437.52" y="76.10" width="7.75" height="238.90" fill="#7570B3"/>
<rect x="448.45" y="42.00" width="7.75" height="2.10" fill="#B15928"/>
<rect x="448.45" y="44.10" width="7.75" height="37.20" fill="#D95F02"/>
<rect x="448.45" y="81.30" width="7.75" height="233.70" fill="#7570B3"/>
<rect x="459.38" y="42.00" width="7.75" height="0.90" fill="#C86A3A"/>
<rect x="459.38" y="42.90" width="7.75" height="1.70" fill="#A6D854"/>
<rect x="459.38" y="44.60" width="7.75" height="13.70" fill="#1B9E77"/>
<rect x="459.38" y="58.30" width="7.75" height="256.70" fill="#7570B3"/>
<rect x="470.31" y="42.00" width="7.75" height="32.10" fill="#B15928"/>
<rect x="470.31" y="74.10" width="7.75" height="2.10" fill="#FDBF6F"/>
<rect x="470.31" y="76.20" width="7.75" height="5.80" fill="#B2DF8A"/>
<rect x="470.31" y="82.00" width="7.75" height="2.10" fill="#E78AC3"/>
<rect x="470.31" y="84.10" width="7.75" height="5.60" fill="#A6D854"/>
<rect x="470.31" y="89.70" width="7.75" height="2.20" fill="#FFD92F"/>
<rect x="470.31" y="91.90" width="7.75" height="2.50" fill="#1B9E77"/>
<rect x="470.31" y="94.40" width="7.75" height="2.40" fill="#D95F02"/>
<rect x="470.31" y="96.80" width="7.75" height="218.20" fill="#7570B3"/>
<rect x="481.24" y="42.00" width="7.75" height="3.30" fill="#66C2A5"/>
<rect x="481.24" y="45.30" width="7.75" height="2.10" fill="#FC8D62"/>
<rect x="481.24" y="47.40" width="7.75" height="23.50" fill="#8DA0CB"/>
<rect x="481.24" y="70.90" width="7.75" height="40.90" fill="#E78AC3"/>
<rect x="481.24" y="111.80" width="7.75" height="3.20" fill="#FFD92F"/>
<rect x="481.24" y="115.00" width="7.75" height="72.80" fill="#D95F02"/>
<rect x="481.24" y="187.80" width="7.75" height="127.20" fill="#7570B3"/>
<rect x="492.17" y="42.00" width="7.75" height="6.50" fill="#E78AC3"/>
<rect x="492.17" y="48.50" width="7.75" height="9.80" fill="#A6D854"/>
<rect x="492.17" y="58.30" width="7.75" height="11.00" fill="#D95F02"/>
<rect x="492.17" y="69.30" width="7.75" height="245.70" fill="#7570B3"/>
<rect x="503.10" y="42.00" width="7.75" height="0.90" fill="#A59AAE"/>
<rect x="503.10" y="42.90" width="7.75" height="66.50" fill="#D95F02"/>
<rect x="503.10" y="109.40" width="7.75" height="205.60" fill="#7570B3"/>
<rect x="514.03" y="42.00" width="7.75" height="39.80" fill="#B15928"/>
<rect x="514.03" y="81.80" width="7.75" height="3.10" fill="#FF7F00"/>
<rect x="514.03" y="84.90" width="7.75" height="4.10" fill="#FB9A99"/>
<rect x="514.03" y="89.00" width="7.75" height="12.90" fill="#B2DF8A"/>
<rect x="514.03" y="101.90" width="7.75" height="0.70" fill="#FC8D62"/>
<rect x="514.03" y="102.60" width="7.75" height="6.00" fill="#8DA0CB"/>
<rect x="514.03" y="108.60" width="7.75" height="5.40" fill="#E78AC3"/>
<rect x="514.03" y="114.00" width="7.75" height="5.00" fill="#A6D854"/>
<rect x="514.03" y="119.00" width="7.75" height="1.10" fill="#FFD92F"/>
<rect x="514.03" y="120.10" width="7.75" height="47.10" fill="#1B9E77"/>
<rect x="514.03" y="167.20" width="7.75" height="6.50" fill="#D95F02"/>
<rect x="514.03" y="173.70" width="7.75" height="141.30" fill="#7570B3"/>
<g stroke="#000" stroke-width="1.1" fill="none">
<path d="M194.5,12 V315.3 H524.7"/>
<path d="M192.5,41.8 H194.5 M192.5,96.9 H194.5 M192.5,151.7 H194.5 M192.5,206.5 H194.5 M192.5,261.2 H194.5 M192.5,315.3 H194.5"/>
</g>
<g font-size="8.4" class="tk" text-anchor="end">
<text x="191.8" y="44.2">100</text>
<text x="191.8" y="99.2">80</text>
<text x="191.8" y="154.1">60</text>
<text x="191.8" y="208.9">40</text>
<text x="191.8" y="263.1">20</text>
<text x="191.0" y="312.8">0</text>
</g>
<text transform="translate(203.63,321.9) rotate(-45)" text-anchor="end" class="tk" font-size="7.8" style="fill:#4D4D4D;stroke:#4D4D4D;stroke-width:0.35px">A1</text>
<line x1="200.94" y1="315.3" x2="200.94" y2="317" stroke="#222" stroke-width="1"/>
<text transform="translate(214.56,321.9) rotate(-45)" text-anchor="end" class="tk" font-size="7.8" style="fill:#4D4D4D;stroke:#4D4D4D;stroke-width:0.35px">A2</text>
<line x1="211.87" y1="315.3" x2="211.87" y2="317" stroke="#222" stroke-width="1"/>
<text transform="translate(225.50,321.9) rotate(-45)" text-anchor="end" class="tk" font-size="7.8" style="fill:#4D4D4D;stroke:#4D4D4D;stroke-width:0.35px">A3</text>
<line x1="222.80" y1="315.3" x2="222.80" y2="317" stroke="#222" stroke-width="1"/>
<text transform="translate(236.42,321.9) rotate(-45)" text-anchor="end" class="tk" font-size="7.8" style="fill:#4D4D4D;stroke:#4D4D4D;stroke-width:0.35px">A4</text>
<line x1="233.72" y1="315.3" x2="233.72" y2="317" stroke="#222" stroke-width="1"/>
<text transform="translate(247.35,321.9) rotate(-45)" text-anchor="end" class="tk" font-size="7.8" style="fill:#4D4D4D;stroke:#4D4D4D;stroke-width:0.35px">A5</text>
<line x1="244.66" y1="315.3" x2="244.66" y2="317" stroke="#222" stroke-width="1"/>
<text transform="translate(258.29,321.9) rotate(-45)" text-anchor="end" class="tk" font-size="7.8" style="fill:#4D4D4D;stroke:#4D4D4D;stroke-width:0.35px">A6</text>
<line x1="255.59" y1="315.3" x2="255.59" y2="317" stroke="#222" stroke-width="1"/>
<text transform="translate(269.21,321.9) rotate(-45)" text-anchor="end" class="tk" font-size="7.8" style="fill:#4D4D4D;stroke:#4D4D4D;stroke-width:0.35px">A7</text>
<line x1="266.51" y1="315.3" x2="266.51" y2="317" stroke="#222" stroke-width="1"/>
<text transform="translate(280.14,321.9) rotate(-45)" text-anchor="end" class="tk" font-size="7.8" style="fill:#4D4D4D;stroke:#4D4D4D;stroke-width:0.35px">A8</text>
<line x1="277.44" y1="315.3" x2="277.44" y2="317" stroke="#222" stroke-width="1"/>
<text transform="translate(291.07,321.9) rotate(-45)" text-anchor="end" class="tk" font-size="7.8" style="fill:#4D4D4D;stroke:#4D4D4D;stroke-width:0.35px">A9</text>
<line x1="288.38" y1="315.3" x2="288.38" y2="317" stroke="#222" stroke-width="1"/>
<text transform="translate(302.00,321.9) rotate(-45)" text-anchor="end" class="tk" font-size="7.8" style="fill:#4D4D4D;stroke:#4D4D4D;stroke-width:0.35px">A10</text>
<line x1="299.31" y1="315.3" x2="299.31" y2="317" stroke="#222" stroke-width="1"/>
<text transform="translate(312.94,321.9) rotate(-45)" text-anchor="end" class="tk" font-size="7.8" style="fill:#4D4D4D;stroke:#4D4D4D;stroke-width:0.35px">B1</text>
<line x1="310.24" y1="315.3" x2="310.24" y2="317" stroke="#222" stroke-width="1"/>
<text transform="translate(323.86,321.9) rotate(-45)" text-anchor="end" class="tk" font-size="7.8" style="fill:#4D4D4D;stroke:#4D4D4D;stroke-width:0.35px">B2</text>
<line x1="321.16" y1="315.3" x2="321.16" y2="317" stroke="#222" stroke-width="1"/>
<text transform="translate(334.80,321.9) rotate(-45)" text-anchor="end" class="tk" font-size="7.8" style="fill:#4D4D4D;stroke:#4D4D4D;stroke-width:0.35px">B3</text>
<line x1="332.10" y1="315.3" x2="332.10" y2="317" stroke="#222" stroke-width="1"/>
<text transform="translate(345.72,321.9) rotate(-45)" text-anchor="end" class="tk" font-size="7.8" style="fill:#4D4D4D;stroke:#4D4D4D;stroke-width:0.35px">B4</text>
<line x1="343.02" y1="315.3" x2="343.02" y2="317" stroke="#222" stroke-width="1"/>
<text transform="translate(356.65,321.9) rotate(-45)" text-anchor="end" class="tk" font-size="7.8" style="fill:#4D4D4D;stroke:#4D4D4D;stroke-width:0.35px">B5</text>
<line x1="353.95" y1="315.3" x2="353.95" y2="317" stroke="#222" stroke-width="1"/>
<text transform="translate(367.58,321.9) rotate(-45)" text-anchor="end" class="tk" font-size="7.8" style="fill:#4D4D4D;stroke:#4D4D4D;stroke-width:0.35px">B6</text>
<line x1="364.88" y1="315.3" x2="364.88" y2="317" stroke="#222" stroke-width="1"/>
<text transform="translate(378.51,321.9) rotate(-45)" text-anchor="end" class="tk" font-size="7.8" style="fill:#4D4D4D;stroke:#4D4D4D;stroke-width:0.35px">B7</text>
<line x1="375.81" y1="315.3" x2="375.81" y2="317" stroke="#222" stroke-width="1"/>
<text transform="translate(389.44,321.9) rotate(-45)" text-anchor="end" class="tk" font-size="7.8" style="fill:#4D4D4D;stroke:#4D4D4D;stroke-width:0.35px">B8</text>
<line x1="386.75" y1="315.3" x2="386.75" y2="317" stroke="#222" stroke-width="1"/>
<text transform="translate(400.38,321.9) rotate(-45)" text-anchor="end" class="tk" font-size="7.8" style="fill:#4D4D4D;stroke:#4D4D4D;stroke-width:0.35px">B9</text>
<line x1="397.68" y1="315.3" x2="397.68" y2="317" stroke="#222" stroke-width="1"/>
<text transform="translate(411.31,321.9) rotate(-45)" text-anchor="end" class="tk" font-size="7.8" style="fill:#4D4D4D;stroke:#4D4D4D;stroke-width:0.35px">B10</text>
<line x1="408.61" y1="315.3" x2="408.61" y2="317" stroke="#222" stroke-width="1"/>
<text transform="translate(422.23,321.9) rotate(-45)" text-anchor="end" class="tk" font-size="7.8" style="fill:#4D4D4D;stroke:#4D4D4D;stroke-width:0.35px">C1</text>
<line x1="419.53" y1="315.3" x2="419.53" y2="317" stroke="#222" stroke-width="1"/>
<text transform="translate(433.17,321.9) rotate(-45)" text-anchor="end" class="tk" font-size="7.8" style="fill:#4D4D4D;stroke:#4D4D4D;stroke-width:0.35px">C2</text>
<line x1="430.47" y1="315.3" x2="430.47" y2="317" stroke="#222" stroke-width="1"/>
<text transform="translate(444.09,321.9) rotate(-45)" text-anchor="end" class="tk" font-size="7.8" style="fill:#4D4D4D;stroke:#4D4D4D;stroke-width:0.35px">C3</text>
<line x1="441.39" y1="315.3" x2="441.39" y2="317" stroke="#222" stroke-width="1"/>
<text transform="translate(455.02,321.9) rotate(-45)" text-anchor="end" class="tk" font-size="7.8" style="fill:#4D4D4D;stroke:#4D4D4D;stroke-width:0.35px">C4</text>
<line x1="452.32" y1="315.3" x2="452.32" y2="317" stroke="#222" stroke-width="1"/>
<text transform="translate(465.95,321.9) rotate(-45)" text-anchor="end" class="tk" font-size="7.8" style="fill:#4D4D4D;stroke:#4D4D4D;stroke-width:0.35px">C5</text>
<line x1="463.25" y1="315.3" x2="463.25" y2="317" stroke="#222" stroke-width="1"/>
<text transform="translate(476.88,321.9) rotate(-45)" text-anchor="end" class="tk" font-size="7.8" style="fill:#4D4D4D;stroke:#4D4D4D;stroke-width:0.35px">C6</text>
<line x1="474.19" y1="315.3" x2="474.19" y2="317" stroke="#222" stroke-width="1"/>
<text transform="translate(487.81,321.9) rotate(-45)" text-anchor="end" class="tk" font-size="7.8" style="fill:#4D4D4D;stroke:#4D4D4D;stroke-width:0.35px">C7</text>
<line x1="485.12" y1="315.3" x2="485.12" y2="317" stroke="#222" stroke-width="1"/>
<text transform="translate(498.75,321.9) rotate(-45)" text-anchor="end" class="tk" font-size="7.8" style="fill:#4D4D4D;stroke:#4D4D4D;stroke-width:0.35px">C8</text>
<line x1="496.05" y1="315.3" x2="496.05" y2="317" stroke="#222" stroke-width="1"/>
<text transform="translate(509.67,321.9) rotate(-45)" text-anchor="end" class="tk" font-size="7.8" style="fill:#4D4D4D;stroke:#4D4D4D;stroke-width:0.35px">C9</text>
<line x1="506.97" y1="315.3" x2="506.97" y2="317" stroke="#222" stroke-width="1"/>
<text transform="translate(520.61,321.9) rotate(-45)" text-anchor="end" class="tk" font-size="7.8" style="fill:#4D4D4D;stroke:#4D4D4D;stroke-width:0.35px">C10</text>
<line x1="517.90" y1="315.3" x2="517.90" y2="317" stroke="#222" stroke-width="1"/>
<rect x="536.5" y="62.30" width="11.5" height="10.9" fill="#B15928"/>
<text x="551.2" y="69.90" font-size="9.5">Other</text>
<rect x="536.5" y="74.23" width="11.5" height="10.9" fill="#FFFF99"/>
<text x="551.2" y="81.83" font-size="9.5">g_<tspan font-style="italic">Ruminococcus torques group</tspan></text>
<rect x="536.5" y="86.17" width="11.5" height="10.9" fill="#6A3D9A"/>
<text x="551.2" y="93.77" font-size="9.5">g_<tspan font-style="italic">Clostridium sensu stricto 1</tspan></text>
<rect x="536.5" y="98.10" width="11.5" height="10.9" fill="#CAB2D6"/>
<text x="551.2" y="105.70" font-size="9.5">g_<tspan font-style="italic">Barnesiella</tspan></text>
<rect x="536.5" y="110.04" width="11.5" height="10.9" fill="#FF7F00"/>
<text x="551.2" y="117.64" font-size="9.5">g_<tspan font-style="italic">Escherichia-Shigella</tspan></text>
<rect x="536.5" y="121.97" width="11.5" height="10.9" fill="#FDBF6F"/>
<text x="551.2" y="129.57" font-size="9.5">g_<tspan font-style="italic">Alistipes</tspan></text>
<rect x="536.5" y="133.91" width="11.5" height="10.9" fill="#E31A1C"/>
<text x="551.2" y="141.51" font-size="9.5">f_Barnesiellaceae</text>
<rect x="536.5" y="145.84" width="11.5" height="10.9" fill="#FB9A99"/>
<text x="551.2" y="153.44" font-size="9.5">g_<tspan font-style="italic">Aeriscardovia</tspan></text>
<rect x="536.5" y="157.78" width="11.5" height="10.9" fill="#33A02C"/>
<text x="551.2" y="165.38" font-size="9.5">f_Lachnospiraceae</text>
<rect x="536.5" y="169.72" width="11.5" height="10.9" fill="#B2DF8A"/>
<text x="551.2" y="177.31" font-size="9.5">g_<tspan font-style="italic">Bacteroides</tspan></text>
<rect x="536.5" y="181.65" width="11.5" height="10.9" fill="#1F78B4"/>
<text x="551.2" y="189.25" font-size="9.5">f_Vibrionaceae</text>
<rect x="536.5" y="193.58" width="11.5" height="10.9" fill="#A6CEE3"/>
<text x="551.2" y="201.18" font-size="9.5">f_Lachnospiraceae</text>
<rect x="536.5" y="205.52" width="11.5" height="10.9" fill="#66C2A5"/>
<text x="551.2" y="213.12" font-size="9.5">f_Peptostreptococcaceae</text>
<rect x="536.5" y="217.45" width="11.5" height="10.9" fill="#FC8D62"/>
<text x="551.2" y="225.05" font-size="9.5">g_<tspan font-style="italic">Turicibacter</tspan></text>
<rect x="536.5" y="229.39" width="11.5" height="10.9" fill="#8DA0CB"/>
<text x="551.2" y="236.99" font-size="9.5">g_<tspan font-style="italic">Helicobacter</tspan></text>
<rect x="536.5" y="241.32" width="11.5" height="10.9" fill="#E78AC3"/>
<text x="551.2" y="248.92" font-size="9.5">g_<tspan font-style="italic">Enterococcus</tspan></text>
<rect x="536.5" y="253.26" width="11.5" height="10.9" fill="#A6D854"/>
<text x="551.2" y="260.86" font-size="9.5">g_<tspan font-style="italic">Faecalibacterium</tspan></text>
<rect x="536.5" y="265.19" width="11.5" height="10.9" fill="#FFD92F"/>
<text x="551.2" y="272.80" font-size="9.5">g_<tspan font-style="italic">Streptococcus</tspan></text>
<rect x="536.5" y="277.13" width="11.5" height="10.9" fill="#1B9E77"/>
<text x="551.2" y="284.73" font-size="9.5">g_<tspan font-style="italic">Lawsonia</tspan></text>
<rect x="536.5" y="289.06" width="11.5" height="10.9" fill="#D95F02"/>
<text x="551.2" y="296.67" font-size="9.5">g_<tspan font-style="italic">Romboutsia</tspan></text>
<rect x="536.5" y="301.00" width="11.5" height="10.9" fill="#7570B3"/>
<text x="551.2" y="308.60" font-size="9.5">g_<tspan font-style="italic">Lactobacillus</tspan></text>
</g>
</svg>
</body></html>
